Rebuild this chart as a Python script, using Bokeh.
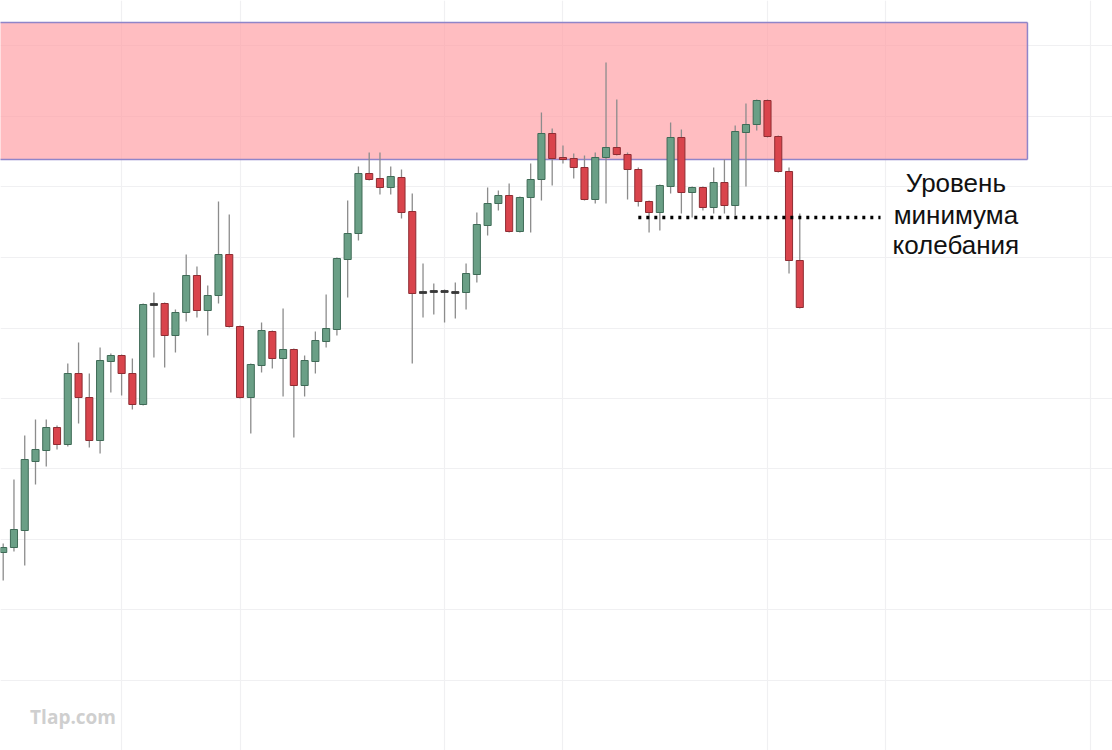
from bokeh.plotting import figure
from bokeh.models import ColumnDataSource, Range1d, FixedTicker
from bokeh.core.properties import value
from bokeh.embed import file_html
from bokeh.resources import INLINE

# ---- data (price levels in chart points) ----
opens = [198, 203, 220, 289, 300, 323, 306, 377, 353, 310,
         389, 395, 377, 346, 446, 447, 415, 438, 475, 440,
         455, 496, 424, 353, 385, 419, 392, 401, 365, 389,
         409, 421, 491, 517, 577, 572, 563, 573, 539, 458,
         459, 459, 458, 458, 476, 525, 547, 555, 519, 553,
         571, 617, 593, 592, 583, 551, 593, 603, 596, 581,
         549, 538, 564, 613, 558, 563, 543, 568, 545, 618,
         626, 650, 614, 579, 490]
highs = [207, 271, 315, 331, 331, 325, 387, 408, 377, 403,
         397, 396, 392, 447, 458, 448, 441, 496, 484, 465,
         549, 536, 425, 387, 428, 420, 442, 402, 395, 419,
         456, 493, 550, 584, 598, 598, 584, 581, 557, 487,
         467, 461, 468, 487, 538, 563, 560, 567, 554, 587,
         638, 622, 605, 597, 595, 598, 688, 651, 598, 583,
         550, 566, 628, 621, 564, 564, 583, 591, 625, 647,
         651, 651, 615, 583, 537]
lows = [170, 199, 185, 266, 284, 301, 304, 327, 303, 297,
        358, 355, 341, 345, 393, 383, 398, 429, 433, 415,
        447, 423, 352, 317, 378, 382, 354, 313, 354, 377,
        403, 415, 453, 510, 570, 556, 556, 532, 387, 433,
        436, 428, 432, 441, 468, 515, 540, 518, 518, 518,
        550, 565, 587, 572, 550, 547, 547, 595, 551, 544,
        518, 520, 557, 537, 533, 540, 537, 537, 535, 564,
        620, 613, 578, 477, 442]
closes = [203, 221, 291, 301, 323, 306, 377, 353, 310, 390,
          395, 377, 346, 446, 446, 415, 438, 475, 440, 455,
          496, 424, 353, 386, 420, 392, 401, 365, 390, 410,
          422, 492, 517, 577, 571, 563, 574, 538, 457, 458,
          459, 459, 458, 477, 526, 547, 555, 519, 553, 571,
          617, 592, 591, 583, 551, 593, 603, 596, 581, 549,
          538, 565, 613, 558, 563, 543, 568, 545, 619, 626,
          650, 614, 579, 490, 443]

zone_top = 728
zone_bottom = 591
swing_low = 533
label_lines = ["Уровень", "минимума", "колебания"]
watermark = "Tlap.com"

# ---- build sources ----
idx = list(range(len(opens)))
up = [i for i in idx if closes[i] > opens[i]]
dn = [i for i in idx if closes[i] < opens[i]]
dj = [i for i in idx if closes[i] == opens[i]]

def src(sel):
    return ColumnDataSource(dict(
        x=[idx[i] for i in sel],
        top=[max(opens[i], closes[i]) for i in sel],
        bottom=[min(opens[i], closes[i]) for i in sel],
        high=[highs[i] for i in sel],
        low=[lows[i] for i in sel],
    ))

wick_src = src(idx)
up_src = src(up)
dn_src = src(dn)
dj_src = ColumnDataSource(dict(
    x=[idx[i] for i in dj],
    top=[opens[i] + 0.9 for i in dj],
    bottom=[opens[i] - 0.9 for i in dj],
))

p = figure(width=1112, height=750, x_range=Range1d(-0.251, 103.05),
           y_range=Range1d(0, 750), min_border=0, toolbar_location=None,
           output_backend="svg", outline_line_color=None,
           background_fill_color="white", border_fill_color="white")
p.xaxis.visible = False
p.yaxis.visible = False
p.xgrid.ticker = FixedTicker(ticks=[11, 22, 41, 52, 71, 82, 101])
p.ygrid.ticker = FixedTicker(ticks=[70, 141, 211, 282, 352, 422, 493, 564, 634, 705])
p.grid.grid_line_color = "#f0f0f2"
p.grid.grid_line_width = 1.2

# resistance zone
p.quad(left=-3, right=95.15, top=zone_top, bottom=zone_bottom,
       fill_color="#ff9aa0", fill_alpha=0.65, line_color=None)
p.segment(x0=[-3, -3, 95.15], y0=[zone_top, zone_bottom, zone_bottom],
          x1=[95.15, 95.15, 95.15], y1=[zone_top, zone_bottom, zone_top],
          line_color="#8f85c9", line_width=1.5)

# candles
p.segment(x0="x", y0="low", x1="x", y1="high", source=wick_src,
          line_color="#8c8c8c", line_width=1.3)
p.vbar(x="x", top="top", bottom="bottom", width=0.66, source=up_src,
       fill_color="#6a9f86", line_color="#3f6b57", line_width=1)
p.vbar(x="x", top="top", bottom="bottom", width=0.66, source=dn_src,
       fill_color="#d9444c", line_color="#8e2d33", line_width=1)
p.vbar(x="x", top="top", bottom="bottom", width=0.66, source=dj_src,
       fill_color="#3a3a3a", line_color="#3a3a3a", line_width=1)

# swing low level
p.line(x=[59.0, 81.5], y=[swing_low, swing_low], line_color="black",
       line_width=3.5, line_dash="3 5", line_cap="butt")

p.text(x=[88.5, 88.5, 88.5], y=[swing_low + 35, swing_low + 3, swing_low - 27],
       text=label_lines, text_font=value("Liberation Sans"),
       text_font_size="26px", text_align="center", text_baseline="middle",
       text_color="#111111")

p.text(x=[2.5], y=[34], text=[watermark], text_font=value("Open Sans"),
       text_font_size="19px", text_font_style="bold", text_align="left",
       text_baseline="middle", text_color="#cfcfcf")

open("out.html", "w").write(file_html(p, INLINE))
